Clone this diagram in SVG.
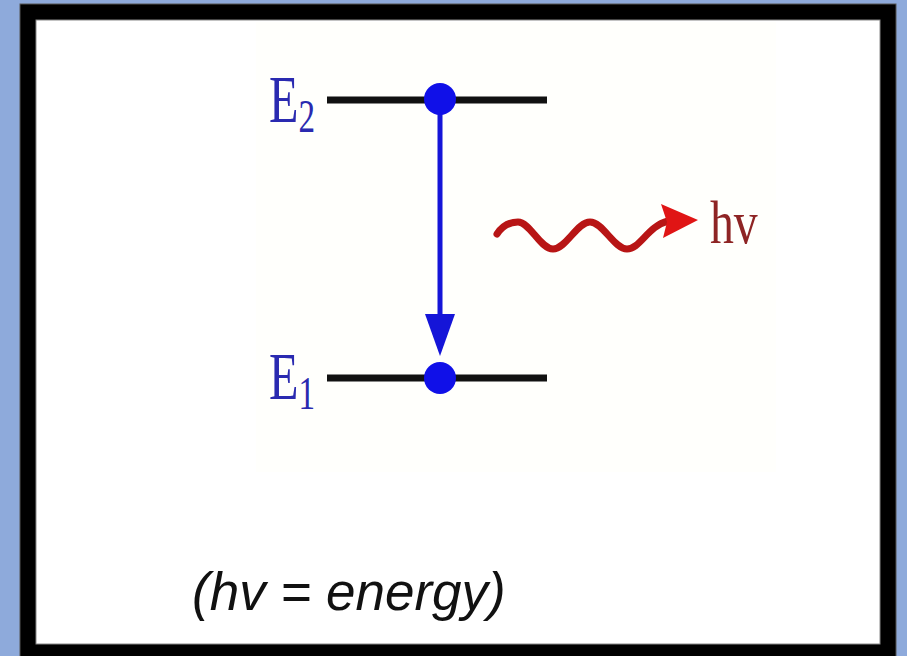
<svg xmlns="http://www.w3.org/2000/svg" width="907" height="656" viewBox="0 0 907 656">
  <defs>
    <style>
      .level { stroke: #111; stroke-width: 7; stroke-linecap: butt; }
      .dot { fill: #1010e8; }
      .elabel { font-family: "Liberation Serif", "Times New Roman", serif; fill: #2a2ab0; }
    </style>
  </defs>
  <rect x="0" y="0" width="907" height="656" fill="#8eaadb"/>
  <rect x="20" y="4" width="876" height="660" fill="#000" stroke="#555" stroke-width="1"/>
  <rect x="36" y="20" width="844" height="624" fill="#fff" stroke="#888" stroke-width="1"/>
  <rect x="256" y="22" width="520" height="450" fill="#fffffc"/>

  <g id="level-E2">
    <line class="level" x1="327" y1="100" x2="547" y2="100"/>
    <text class="elabel" transform="translate(269,122) scale(0.72,1)" font-size="67">E<tspan font-size="46" dy="10">2</tspan></text>
  </g>
  <g id="level-E1">
    <line class="level" x1="327" y1="378" x2="547" y2="378"/>
    <text class="elabel" transform="translate(269,399) scale(0.72,1)" font-size="67">E<tspan font-size="46" dy="10">1</tspan></text>
  </g>

  <g id="connectors">
    <line x1="440" y1="100" x2="440" y2="320" stroke="#1515d8" stroke-width="5"/>
    <polygon points="425,314 455,314 440,356" fill="#1515d8"/>
    <path d="M497,234 C503,225 510,222 518,222 C530,222 540,249 553,249 C566,249 577,222 590,222 C603,222 614,249 627,249 C640,249 648,226 668,221" fill="none" stroke="#b81515" stroke-width="7" stroke-linecap="round"/>
    <polygon points="698,220 661,204 667,222 663,238" fill="#e01515"/>
  </g>

  <g id="electron-E2"><circle class="dot" cx="440" cy="99" r="16"/></g>
  <g id="electron-E1"><circle class="dot" cx="440" cy="378" r="16"/></g>

  <g id="photon-label">
    <text transform="translate(710,243) scale(0.77,1)" font-family="Liberation Serif, Times New Roman, serif" font-size="62" fill="#8e2424">hv</text>
  </g>

  <g id="caption">
    <text x="192" y="610" font-family="Liberation Sans, Arial, sans-serif" font-style="italic" font-size="53" fill="#111">(hv = energy)</text>
  </g>
</svg>
